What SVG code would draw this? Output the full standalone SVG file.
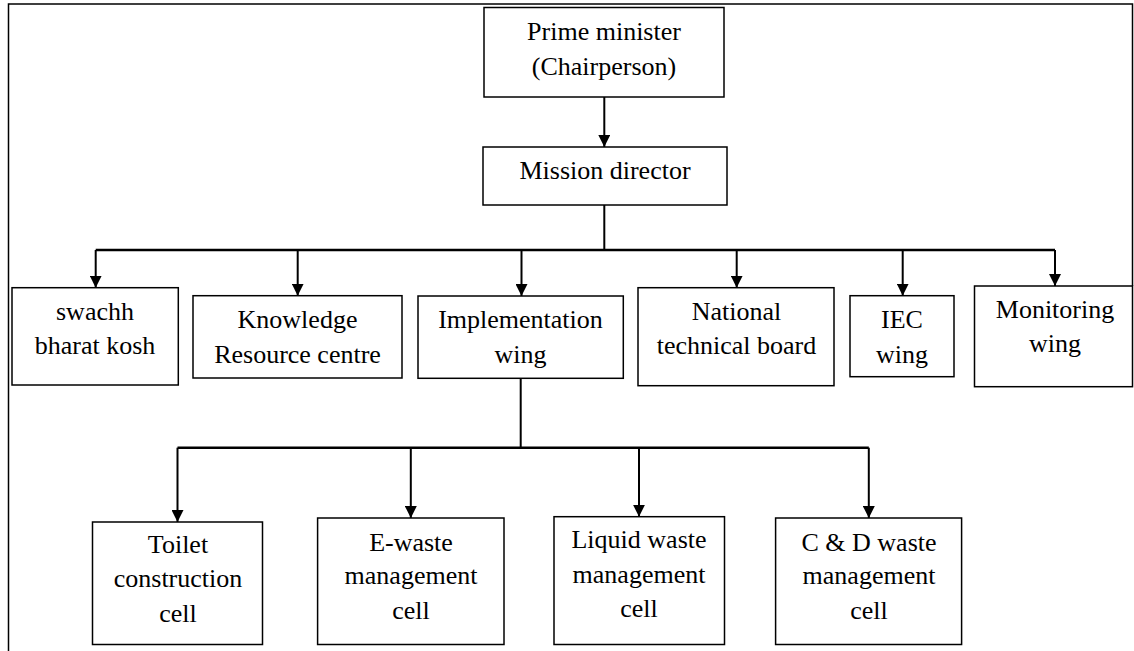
<svg xmlns="http://www.w3.org/2000/svg" width="1134" height="651" viewBox="0 0 1134 651">
  <style>
    .box { fill: #ffffff; stroke: #000000; stroke-width: 1.5; }
    .lbl { font-family: "Liberation Serif", "Times New Roman", serif; font-size: 26px; fill: #000000; text-anchor: middle; }
    .conn { fill: none; stroke: #000000; stroke-width: 2; }
    .bus { fill: none; stroke: #000000; stroke-width: 2.6; }
    .frame { fill: none; stroke: #000000; stroke-width: 1.5; }
  </style>
  <defs>
    <marker id="arrow" markerUnits="userSpaceOnUse" markerWidth="12" markerHeight="12" refX="12" refY="6" orient="auto">
      <path d="M0,0 L12,6 L0,12 z" fill="#000000"/>
    </marker>
  </defs>
  <rect width="1134" height="651" fill="#ffffff"/>
  <path class="frame" d="M8.5,651 V4 H1132.5 V286"/>

  <g id="connectors">
    <path class="conn" d="M604.3,97 V147" marker-end="url(#arrow)"/>
    <path class="conn" d="M604.3,205 V250"/>
    <path class="bus" d="M95.7,250 H1055"/>
    <path class="conn" d="M95.7,250 V287.7" marker-end="url(#arrow)"/>
    <path class="conn" d="M297.7,250 V295.7" marker-end="url(#arrow)"/>
    <path class="conn" d="M521.5,250 V296" marker-end="url(#arrow)"/>
    <path class="conn" d="M736.7,250 V287.7" marker-end="url(#arrow)"/>
    <path class="conn" d="M902.7,250 V295.7" marker-end="url(#arrow)"/>
    <path class="conn" d="M1055,250 V286" marker-end="url(#arrow)"/>
    <path class="conn" d="M520.7,378 V447.7"/>
    <path class="bus" d="M177.5,447.7 H868.8"/>
    <path class="conn" d="M177.5,447.7 V522" marker-end="url(#arrow)"/>
    <path class="conn" d="M410.8,447.7 V518" marker-end="url(#arrow)"/>
    <path class="conn" d="M639,447.7 V516.7" marker-end="url(#arrow)"/>
    <path class="conn" d="M868.8,447.7 V518" marker-end="url(#arrow)"/>
  </g>

  <g id="prime-minister">
    <rect class="box" x="484" y="7.5" width="240" height="89.5"/>
    <text class="lbl" x="604" y="40">Prime minister</text>
    <text class="lbl" x="604" y="75">(Chairperson)</text>
  </g>
  <g id="mission-director">
    <rect class="box" x="483" y="147" width="244" height="58"/>
    <text class="lbl" x="605" y="179">Mission director</text>
  </g>

  <g id="swachh-bharat-kosh">
    <rect class="box" x="12" y="287.7" width="166.3" height="97.3"/>
    <text class="lbl" x="95" y="320">swachh</text>
    <text class="lbl" x="95" y="354">bharat kosh</text>
  </g>
  <g id="knowledge-resource-centre">
    <rect class="box" x="193" y="295.7" width="209" height="82.3"/>
    <text class="lbl" x="297.5" y="328">Knowledge</text>
    <text class="lbl" x="297.5" y="363">Resource centre</text>
  </g>
  <g id="implementation-wing">
    <rect class="box" x="418" y="296" width="205.3" height="82.3"/>
    <text class="lbl" x="520.5" y="328">Implementation</text>
    <text class="lbl" x="520.5" y="363">wing</text>
  </g>
  <g id="national-technical-board">
    <rect class="box" x="638" y="287.7" width="196" height="98"/>
    <text class="lbl" x="736.5" y="320">National</text>
    <text class="lbl" x="736.5" y="354">technical board</text>
  </g>
  <g id="iec-wing">
    <rect class="box" x="850" y="295.7" width="104" height="81"/>
    <text class="lbl" x="902" y="328">IEC</text>
    <text class="lbl" x="902" y="363">wing</text>
  </g>
  <g id="monitoring-wing">
    <rect class="box" x="974.5" y="286" width="158" height="100.7"/>
    <text class="lbl" x="1055" y="318">Monitoring</text>
    <text class="lbl" x="1055" y="352">wing</text>
  </g>

  <g id="toilet-construction-cell">
    <rect class="box" x="92.5" y="522" width="170" height="122.5"/>
    <text class="lbl" x="178" y="553">Toilet</text>
    <text class="lbl" x="178" y="587">construction</text>
    <text class="lbl" x="178" y="622">cell</text>
  </g>
  <g id="e-waste-management-cell">
    <rect class="box" x="317.6" y="518" width="186.4" height="126.5"/>
    <text class="lbl" x="411" y="551">E-waste</text>
    <text class="lbl" x="411" y="584">management</text>
    <text class="lbl" x="411" y="619">cell</text>
  </g>
  <g id="liquid-waste-management-cell">
    <rect class="box" x="554" y="516.7" width="170.5" height="127.8"/>
    <text class="lbl" x="639" y="548">Liquid waste</text>
    <text class="lbl" x="639" y="583">management</text>
    <text class="lbl" x="639" y="617">cell</text>
  </g>
  <g id="c-d-waste-management-cell">
    <rect class="box" x="775.6" y="518" width="186" height="126.5"/>
    <text class="lbl" x="869" y="551">C &amp; D waste</text>
    <text class="lbl" x="869" y="584">management</text>
    <text class="lbl" x="869" y="619">cell</text>
  </g>
</svg>
